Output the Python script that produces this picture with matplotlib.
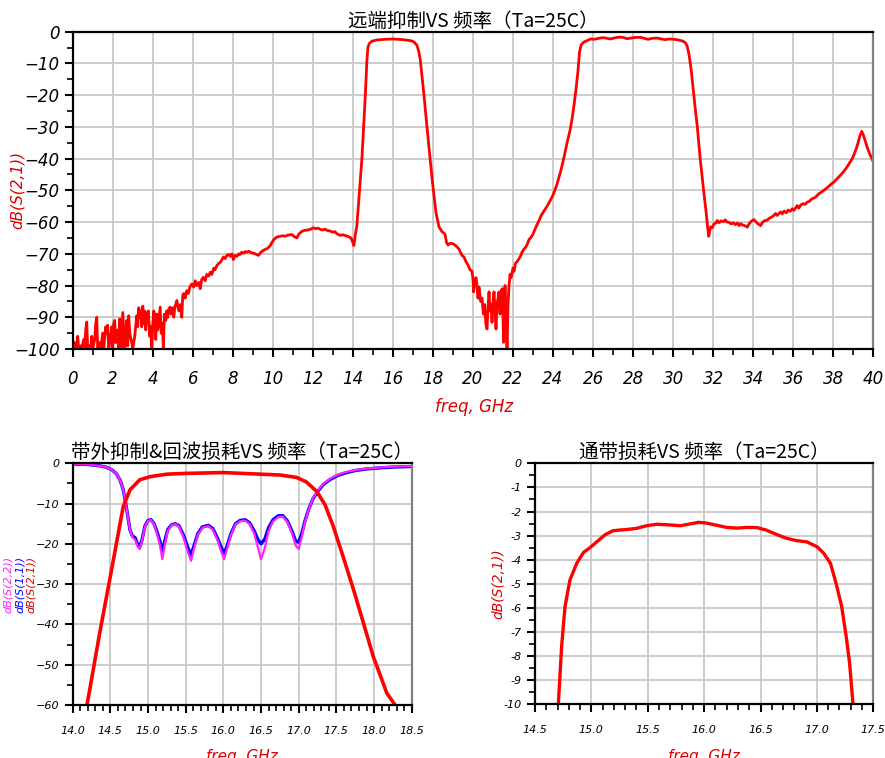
import numpy as np
import matplotlib.pyplot as plt
from matplotlib.ticker import MultipleLocator

plt.rcParams['font.family'] = ['Noto Sans CJK SC', 'DejaVu Sans']

# ---- wideband S21, 0-40 GHz ----
top_freq = [0.00, 0.05, 0.12, 0.20, 0.25, 0.30, 0.40, 0.45, 0.55, 0.60, 0.65, 0.70, 0.75, 0.85, 0.90,
            0.95, 1.00, 1.10, 1.15, 1.20, 1.25, 1.35, 1.40, 1.50, 1.55, 1.65, 1.70, 1.75, 1.80, 1.90,
            1.95, 2.00, 2.05, 2.10, 2.15, 2.25, 2.30, 2.35, 2.40, 2.45, 2.50, 2.55, 2.60, 2.70, 2.75,
            2.80, 2.85, 2.95, 3.00, 3.10, 3.20, 3.25, 3.30, 3.35, 3.40, 3.45, 3.50, 3.55, 3.60, 3.65,
            3.70, 3.78, 3.85, 3.90, 3.95, 4.00, 4.05, 4.10, 4.15, 4.20, 4.25, 4.30, 4.37, 4.42, 4.48,
            4.53, 4.58, 4.65, 4.70, 4.75, 4.80, 4.87, 4.92, 5.00, 5.05, 5.10, 5.20, 5.30, 5.38, 5.45,
            5.50, 5.55, 5.62, 5.70, 5.78, 5.85, 5.95, 6.05, 6.12, 6.20, 6.30, 6.37, 6.45, 6.53, 6.62,
            6.70, 6.80, 6.87, 6.95, 7.05, 7.12, 7.20, 7.30, 7.40, 7.53, 7.62, 7.70, 7.80, 7.87, 7.95,
            8.03, 8.10, 8.20, 8.30, 8.37, 8.45, 8.55, 8.62, 8.70, 8.80, 8.90, 9.03, 9.15, 9.28, 9.40,
            9.53, 9.65, 9.75, 9.87, 9.95, 10.05, 10.20, 10.35, 10.50, 10.60, 10.70, 10.85, 10.95, 11.05, 11.20,
            11.30, 11.45, 11.60, 11.75, 11.90, 12.03, 12.15, 12.25, 12.37, 12.50, 12.60, 12.70, 12.85, 13.00, 13.10,
            13.20, 13.37, 13.50, 13.65, 13.78, 13.90, 13.97, 14.05, 14.12, 14.20, 14.45, 14.62, 14.70, 14.75, 14.82,
            14.95, 15.20, 15.60, 16.00, 16.50, 16.87, 17.05, 17.20, 17.30, 17.37, 17.55, 17.70, 17.95, 18.15, 18.30,
            18.45, 18.60, 18.68, 18.75, 18.85, 19.00, 19.15, 19.30, 19.45, 19.55, 19.65, 19.75, 19.85, 19.95, 20.00,
            20.03, 20.08, 20.15, 20.20, 20.25, 20.30, 20.38, 20.45, 20.52, 20.58, 20.65, 20.70, 20.75, 20.80, 20.85,
            20.90, 20.95, 21.00, 21.05, 21.10, 21.15, 21.20, 21.25, 21.30, 21.35, 21.40, 21.45, 21.50, 21.53, 21.57,
            21.60, 21.65, 21.70, 21.75, 21.80, 21.85, 21.90, 21.95, 22.00, 22.05, 22.12, 22.20, 22.30, 22.37, 22.45,
            22.55, 22.62, 22.70, 22.80, 22.90, 23.00, 23.10, 23.20, 23.30, 23.40, 23.55, 23.70, 23.85, 24.00, 24.20,
            24.40, 24.55, 24.70, 24.85, 24.95, 25.05, 25.15, 25.25, 25.32, 25.40, 25.53, 25.70, 25.87, 26.05, 26.20,
            26.35, 26.53, 26.70, 26.87, 27.05, 27.20, 27.37, 27.55, 27.70, 27.90, 28.10, 28.37, 28.55, 28.75, 28.95,
            29.20, 29.40, 29.60, 29.80, 30.03, 30.25, 30.45, 30.60, 30.70, 30.80, 30.90, 31.00, 31.10, 31.20, 31.35,
            31.53, 31.65, 31.73, 31.78, 31.82, 31.88, 31.95, 32.05, 32.15, 32.20, 32.30, 32.40, 32.50, 32.60, 32.70,
            32.80, 32.90, 33.00, 33.10, 33.20, 33.30, 33.37, 33.50, 33.60, 33.70, 33.80, 33.90, 34.03, 34.15, 34.25,
            34.37, 34.45, 34.55, 34.70, 34.80, 34.90, 35.03, 35.12, 35.20, 35.30, 35.37, 35.45, 35.55, 35.65, 35.75,
            35.85, 35.95, 36.03, 36.12, 36.20, 36.28, 36.38, 36.50, 36.60, 36.70, 36.80, 36.90, 37.00, 37.10, 37.20,
            37.30, 37.40, 37.53, 37.65, 37.80, 37.90, 38.03, 38.20, 38.35, 38.53, 38.70, 38.85, 38.95, 39.05, 39.15,
            39.25, 39.33, 39.42, 39.50, 39.60, 39.70, 39.80, 39.90, 40.00]
top_s21 = [-97, -100, -98, -100, -96, -100, -99, -100, -97, -100, -94, -91.5, -100, -99, -100,
           -96, -100, -97, -92, -90, -100, -98, -100, -95, -100, -93, -95, -92.5, -100, -96,
           -93, -100, -92, -91, -98, -94, -100, -90.5, -96, -100, -88.5, -94, -100, -91, -99,
           -89.5, -95, -98, -100, -96, -89.5, -93, -87, -90, -88, -93, -86.5, -92, -88, -94,
           -89, -88, -96, -93, -99.5, -92, -88, -90, -97, -89, -94, -91, -86.8, -95, -92,
           -100, -89, -91, -88, -90, -87.5, -86.8, -89, -87, -90, -87, -84.7, -88, -86, -90,
           -83, -82.5, -84, -81.6, -82.5, -80.5, -79.5, -80.5, -78.5, -80, -79, -81, -78, -77.4, -78.5,
           -76.5, -77, -75.8, -76.5, -74.5, -75, -73.7, -73, -72.5, -71, -71.5, -70.5, -70.2, -70.8, -70,
           -71.8, -70.5, -70.8, -70, -70.2, -69.5, -69.8, -69.3, -69.5, -69.2, -69.6, -69.8, -70.1, -70.5, -69.5,
           -68.9, -68.5, -68.2, -67.4, -66.5, -65.5, -64.7, -64.5, -64.3, -64.5, -64.2, -64.0, -63.9, -64.5, -65,
           -63.8, -62.9, -62.6, -62.5, -62.2, -61.8, -62.1, -61.9, -62.3, -62.5, -62.2, -62.6, -62.8, -63.2, -63.0,
           -63.7, -64.2, -64.0, -64.3, -64.6, -65.0, -66, -67.4, -64, -61, -40, -20, -9, -5, -3.7,
           -3.0, -2.6, -2.4, -2.3, -2.5, -2.8, -3.2, -4.3, -6.5, -9, -20, -30, -46, -57, -61.5,
           -63, -63.8, -66.5, -67.2, -66.7, -66.8, -67.5, -68.5, -70.5, -71, -72.5, -73.5, -75, -75.5, -78,
           -82, -79, -77.5, -80, -84, -80.5, -85, -84, -89, -86, -92.5, -93.7, -87, -82, -88,
           -86, -91.6, -85, -82, -88, -93.7, -86, -84, -82, -89, -83, -81, -90, -97.9, -85,
           -80, -88, -100, -86, -80, -76.5, -77.5, -76, -74.5, -75.5, -73, -72.5, -71.5, -70.8, -69.5,
           -68.5, -68, -67.2, -65.5, -64.8, -63.8, -62.2, -60.8, -59.5, -58, -56.5, -55, -53.3, -51.5, -48,
           -43.5, -39.5, -35, -31, -27.5, -23, -18, -12, -6.5, -4.2, -3.3, -2.8, -2.3, -2.4, -2.2,
           -2.0, -1.9, -2.1, -2.3, -2.0, -1.8, -1.7, -1.9, -2.2, -2.0, -1.8, -1.8, -2.1, -2.4, -2.1,
           -2.0, -2.3, -2.5, -2.3, -2.4, -2.6, -2.9, -3.4, -4.5, -7.5, -12, -18, -24, -29.5, -40,
           -50.5, -57, -62, -64.5, -63, -61.5, -61.8, -60.5, -60.3, -59.5, -60.2, -59.6, -59.9, -59.3, -60,
           -60.1, -60.6, -60.2, -60.8, -60.3, -61.1, -60.5, -61, -61.2, -61.6, -60.5, -59.8, -59.2, -60, -60.6,
           -61.1, -60.2, -59.6, -59.4, -58.8, -58.5, -57.9, -57.3, -57.9, -57.2, -56.8, -57.4, -56.5, -57.1, -56.2,
           -56.6, -55.8, -56.3, -55.5, -54.8, -55.6, -54.6, -54.2, -54.4, -53.7, -53.5, -52.8, -52.5, -52.2, -51.6,
           -51.0, -50.6, -50.0, -49.4, -48.6, -48.0, -47.4, -46.3, -45.3, -44.0, -42.5, -41.0, -40.0, -38.5, -36.8,
           -34.8, -32.8, -31.4, -32.5, -34.5, -36.5, -38.2, -39.6, -41]

# ---- band 14-18.5 GHz: S21, S11, S22 ----
band_s21_freq = [14.19, 14.36, 14.54, 14.67, 14.76, 14.89, 15.03, 15.25, 15.51, 16.00, 16.49, 16.75, 16.97,
                 17.10, 17.24, 17.35, 17.46, 17.59, 17.73, 17.86, 17.99, 18.10, 18.17, 18.28]
band_s21 = [-60, -42, -24, -10.8, -6.6, -4.1, -3.3, -2.7, -2.5, -2.3, -2.7, -2.9, -3.5,
            -4.6, -7.0, -10.3, -15.7, -23.2, -31.5, -39.7, -48.0, -53.5, -57.1, -60]

refl_freq = [14.00, 14.20, 14.35, 14.45, 14.52, 14.58, 14.63, 14.67, 14.70, 14.73, 14.76, 14.79, 14.83, 14.86,
             14.89, 14.92, 14.96, 15.00, 15.04, 15.08, 15.12, 15.16, 15.19, 15.22, 15.26, 15.31, 15.36, 15.41,
             15.47, 15.52, 15.57, 15.61, 15.66, 15.72, 15.80, 15.86, 15.92, 15.97, 16.01, 16.05, 16.10, 16.16,
             16.22, 16.29, 16.35, 16.41, 16.46, 16.50, 16.55, 16.60, 16.66, 16.73, 16.79, 16.85, 16.91, 16.96,
             17.00, 17.04, 17.08, 17.13, 17.19, 17.26, 17.33, 17.42, 17.52, 17.62, 17.75, 17.90, 18.10, 18.30,
             18.50]
s11 = [-0.2, -0.3, -0.6, -1.0, -1.6, -2.6, -4.2, -6.5, -9.5, -13.0, -16.5, -18.0, -18.5, -20.0,
       -20.8, -19.0, -15.5, -14.2, -14.0, -15.0, -17.0, -19.5, -21.8, -19.5, -16.5, -15.3, -15.0, -15.5,
       -17.8, -20.5, -22.8, -20.5, -17.5, -15.8, -15.4, -16.2, -18.5, -20.8, -22.3, -20.5, -17.5, -15.0,
       -14.2, -14.0, -14.8, -16.8, -19.0, -20.0, -18.8, -16.0, -14.0, -13.0, -13.0, -14.3, -16.8, -19.3,
       -19.6, -17.5, -14.5, -11.5, -8.8, -6.8, -5.2, -4.0, -3.0, -2.4, -1.8, -1.4, -1.1, -0.9,
       -0.8]
s22 = [-0.2, -0.3, -0.6, -1.0, -1.6, -2.6, -4.2, -6.5, -9.5, -13.0, -16.5, -18.3, -19.0, -20.6,
       -21.3, -19.3, -15.7, -14.3, -14.1, -15.2, -17.5, -20.5, -23.8, -20.5, -16.8, -15.4, -15.1, -15.7,
       -18.3, -21.5, -24.2, -21.2, -17.8, -16.0, -15.6, -16.5, -19.0, -21.8, -23.8, -21.2, -17.8, -15.2,
       -14.4, -14.2, -15.1, -17.5, -21.0, -23.8, -21.0, -16.8, -14.4, -13.3, -13.2, -14.6, -17.3, -20.4,
       -21.3, -18.3, -14.8, -11.6, -8.7, -6.6, -5.0, -3.8, -2.8, -2.2, -1.7, -1.3, -1.0, -0.8,
       -0.7]

# ---- passband insertion loss ----
pb_freq = [14.707, 14.736, 14.766, 14.81, 14.87, 14.93, 14.99, 15.05, 15.12, 15.19, 15.25, 15.31, 15.40,
           15.49, 15.58, 15.67, 15.79, 15.87, 15.95, 16.02, 16.11, 16.20, 16.29, 16.38, 16.47, 16.55, 16.64,
           16.73, 16.82, 16.91, 17.00, 17.06, 17.12, 17.17, 17.22, 17.26, 17.29, 17.32]
pb_s21 = [-10, -7.6, -5.95, -4.84, -4.15, -3.7, -3.49, -3.25, -2.97, -2.8, -2.77, -2.75, -2.7,
          -2.59, -2.53, -2.55, -2.59, -2.52, -2.45, -2.48, -2.57, -2.66, -2.69, -2.66, -2.67, -2.77, -2.95,
          -3.11, -3.21, -3.26, -3.46, -3.73, -4.15, -4.98, -5.95, -7.2, -8.3, -10]

W, H = 885, 758
fig = plt.figure(figsize=(W / 100, H / 100), dpi=100)

num_font = dict(family='DejaVu Sans', style='italic')
grid_kw = dict(color='#c8c8c8', linewidth=1.3)
RED_TXT = '#dd0000'


def style_axes(ax, fs, pad):
    ax.grid(True, which='major', **grid_kw)
    ax.set_axisbelow(True)
    for s in ax.spines.values():
        s.set_linewidth(1.6)
        s.set_color('black')
    ax.spines['right'].set_color('#808080')
    ax.tick_params(which='major', direction='out', length=6, width=1.5, labelsize=fs)
    ax.tick_params(axis='x', which='major', pad=pad)
    ax.tick_params(which='minor', direction='out', length=4, width=1.2)
    for lab in ax.get_xticklabels() + ax.get_yticklabels():
        lab.set_fontfamily('DejaVu Sans')
        lab.set_fontstyle('italic')


# top chart
ax1 = fig.add_axes([72.7 / W, 1 - 349 / H, (873.3 - 72.7) / W, (349 - 31.7) / H])
ax1.plot(top_freq, top_s21, color='#ff0000', lw=2.0)
ax1.set_xlim(0, 40)
ax1.set_ylim(-100, 0)
ax1.xaxis.set_major_locator(MultipleLocator(2))
ax1.xaxis.set_minor_locator(MultipleLocator(1))
ax1.yaxis.set_major_locator(MultipleLocator(10))
ax1.yaxis.set_minor_locator(MultipleLocator(5))
style_axes(ax1, 12, 9)
ax1.set_title('远端抑制VS 频率（Ta=25C）', fontsize=14, pad=3)
fig.text(474 / W, 1 - 407 / H, 'freq, GHz', color=RED_TXT, fontsize=12,
         ha='center', va='center', **num_font)
fig.text(17 / W, 1 - 190 / H, 'dB(S(2,1))', color=RED_TXT, fontsize=11, rotation=90,
         ha='center', va='center', **num_font)

# bottom-left chart
ax2 = fig.add_axes([72.7 / W, 1 - 705 / H, (411.7 - 72.7) / W, (705 - 463.3) / H])
ax2.plot(refl_freq, s11, color='#0000ff', lw=2.4)
ax2.plot(refl_freq, s22, color='#ff22ff', lw=1.6)
ax2.plot(band_s21_freq, band_s21, color='#ff0000', lw=2.6)
ax2.set_xlim(14.0, 18.5)
ax2.set_ylim(-60, 0)
ax2.xaxis.set_major_locator(MultipleLocator(0.5))
ax2.xaxis.set_minor_locator(MultipleLocator(0.1))
ax2.yaxis.set_major_locator(MultipleLocator(10))
ax2.yaxis.set_minor_locator(MultipleLocator(5))
ax2.xaxis.set_major_formatter(lambda v, p: f'{v:.1f}')
style_axes(ax2, 8, 9)
ax2.set_title('带外抑制&回波损耗VS 频率（Ta=25C）', fontsize=14, pad=3)
for xp, txt, col in [(8, 'dB(S(2,2))', '#ff22ff'), (19.5, 'dB(S(1,1))', '#0000ff'),
                     (31, 'dB(S(2,1))', RED_TXT)]:
    fig.text(xp / W, 1 - 584 / H, txt, rotation=90, color=col, fontsize=8,
             ha='center', va='center', **num_font)
fig.text(242 / W, 1 - 749 / H, 'freq, GHz', color=RED_TXT, fontsize=11,
         ha='center', va='top', **num_font)

# bottom-right chart
ax3 = fig.add_axes([535 / W, 1 - 704.3 / H, (873.3 - 535) / W, (704.3 - 463.3) / H])
ax3.plot(pb_freq, pb_s21, color='#ff0000', lw=2.4)
ax3.set_xlim(14.5, 17.5)
ax3.set_ylim(-10, 0)
ax3.xaxis.set_major_locator(MultipleLocator(0.5))
ax3.xaxis.set_minor_locator(MultipleLocator(0.1))
ax3.yaxis.set_major_locator(MultipleLocator(1))
ax3.yaxis.set_minor_locator(MultipleLocator(0.5))
ax3.xaxis.set_major_formatter(lambda v, p: f'{v:.1f}')
ax3.yaxis.set_major_formatter(lambda v, p: f'{v:.0f}')
style_axes(ax3, 8, 9)
ax3.set_title('通带损耗VS 频率（Ta=25C）', fontsize=14, pad=3)
fig.text(498 / W, 1 - 584 / H, 'dB(S(2,1))', color=RED_TXT, fontsize=10, rotation=90,
         ha='center', va='center', **num_font)
fig.text(704 / W, 1 - 749 / H, 'freq, GHz', color=RED_TXT, fontsize=11,
         ha='center', va='top', **num_font)

fig.savefig('out.png', dpi=100)
